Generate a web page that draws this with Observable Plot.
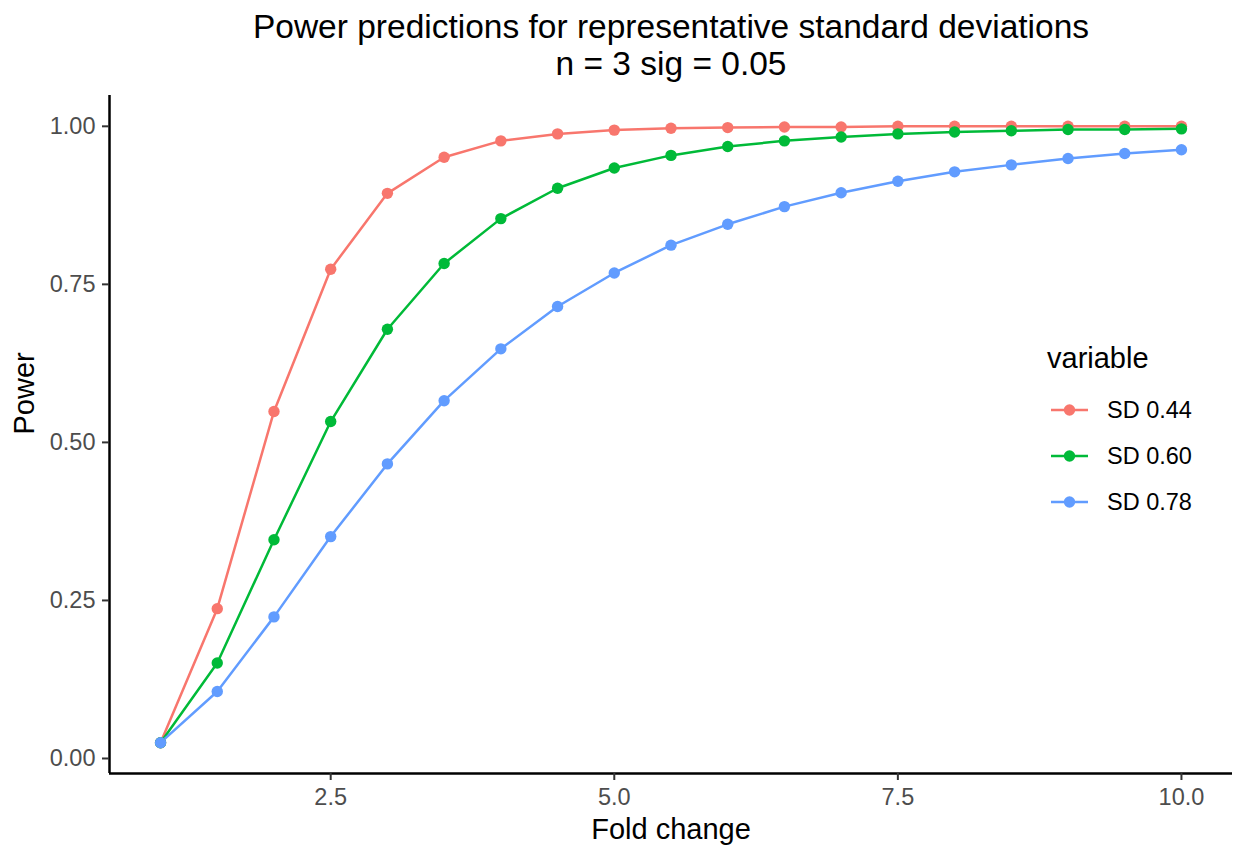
<!DOCTYPE html>
<html>
<head>
<meta charset="utf-8">
<script src="https://cdn.jsdelivr.net/npm/d3@7"></script>
<script src="https://cdn.jsdelivr.net/npm/@observablehq/plot@0.6"></script>
<style>
  html, body { margin: 0; padding: 0; background: #ffffff; }
  #chart { width: 1236px; height: 846px; }
</style>
</head>
<body>
<div id="chart"></div>
<script>
// ---- data ----
const foldChange = [1, 1.5, 2, 2.5, 3, 3.5, 4, 4.5, 5, 5.5, 6, 6.5, 7, 7.5, 8, 8.5, 9, 9.5, 10];
const sd044 = [0.025, 0.237, 0.549, 0.774, 0.894, 0.951, 0.977, 0.988, 0.994, 0.997, 0.998, 0.999, 0.999, 1.0, 1.0, 1.0, 1.0, 1.0, 1.0];
const sd060 = [0.025, 0.151, 0.346, 0.533, 0.679, 0.783, 0.854, 0.902, 0.934, 0.954, 0.968, 0.977, 0.983, 0.988, 0.991, 0.993, 0.995, 0.995, 0.996];
const sd078 = [0.025, 0.106, 0.224, 0.351, 0.466, 0.566, 0.648, 0.715, 0.768, 0.812, 0.845, 0.873, 0.895, 0.913, 0.928, 0.939, 0.949, 0.957, 0.963];
const seriesNames = ["SD 0.44", "SD 0.60", "SD 0.78"];
const seriesColors = ["#F8766D", "#00BA38", "#619CFF"];
const xTicks = [2.5, 5.0, 7.5, 10.0];
const yTicks = [0, 0.25, 0.5, 0.75, 1.0];
const titleLine1 = "Power predictions for representative standard deviations";
const titleLine2 = "n = 3 sig = 0.05";
const xTitle = "Fold change";
const yTitle = "Power";
const legendTitle = "variable";

// ---- build table ----
const seriesValues = [sd044, sd060, sd078];
const rows = [];
seriesNames.forEach((name, i) => {
  foldChange.forEach((fc, j) => rows.push({series: name, x: fc, y: seriesValues[i][j]}));
});

const FONT = "'Liberation Sans', Arial, Helvetica, sans-serif";
const xDomain = [0.55, 10.45];
const yDomain = [-0.02375, 1.04875];

const chart = Plot.plot({
  width: 1236,
  height: 846,
  marginLeft: 109,
  marginRight: 4,
  marginTop: 95,
  marginBottom: 73,
  style: {fontFamily: FONT, background: "#ffffff", color: "#000000"},
  x: {domain: xDomain},
  y: {domain: yDomain},
  color: {domain: seriesNames, range: seriesColors},
  marks: [
    Plot.line(rows, {x: "x", y: "y", z: "series", stroke: "series", strokeWidth: 2.5}),
    Plot.dot(rows, {x: "x", y: "y", fill: "series", r: 5.7, stroke: null}),
    Plot.ruleX([xDomain[0]], {stroke: "#000000", strokeWidth: 2.5}),
    Plot.ruleY([yDomain[0]], {stroke: "#000000", strokeWidth: 2.5}),
    Plot.axisX(xTicks, {
      tickSize: 7, tickPadding: 8, fontSize: 23.5, stroke: "#333333", strokeWidth: 2,
      fill: "#4D4D4D", tickFormat: d => d.toFixed(1), label: null
    }),
    Plot.axisY(yTicks, {
      tickSize: 7, tickPadding: 7, fontSize: 23.5, stroke: "#333333", strokeWidth: 2,
      fill: "#4D4D4D", tickFormat: d => d.toFixed(2), label: null
    }),
    Plot.text([titleLine1], {frameAnchor: "top", dy: -58, lineAnchor: "bottom", fontSize: 33.5, fill: "#000000"}),
    Plot.text([titleLine2], {frameAnchor: "top", dy: -21, lineAnchor: "bottom", fontSize: 33.5, fill: "#000000"}),
    Plot.text([xTitle], {frameAnchor: "bottom", dy: 65, lineAnchor: "bottom", fontSize: 29, fill: "#000000"}),
    Plot.text([yTitle], {frameAnchor: "left", dx: -85, rotate: -90, fontSize: 29, fill: "#000000"})
  ]
});

// ---- legend (line + point keys, like ggplot) ----
const svg = d3.select(chart);
const lg = svg.append("g").attr("font-family", FONT).attr("text-anchor", "start");
lg.append("text").attr("x", 1047).attr("y", 368).attr("font-size", 29).attr("fill", "#000000").text(legendTitle);
seriesNames.forEach((name, i) => {
  const cy = 410 + 46 * i;
  lg.append("line").attr("x1", 1051).attr("x2", 1088).attr("y1", cy).attr("y2", cy)
    .attr("stroke", seriesColors[i]).attr("stroke-width", 2.5);
  lg.append("circle").attr("cx", 1069.5).attr("cy", cy).attr("r", 5.7).attr("fill", seriesColors[i]);
  lg.append("text").attr("x", 1107).attr("y", cy).attr("dy", "0.36em").attr("font-size", 23.5)
    .attr("fill", "#000000").text(name);
});

document.getElementById("chart").appendChild(chart);
</script>
</body>
</html>
